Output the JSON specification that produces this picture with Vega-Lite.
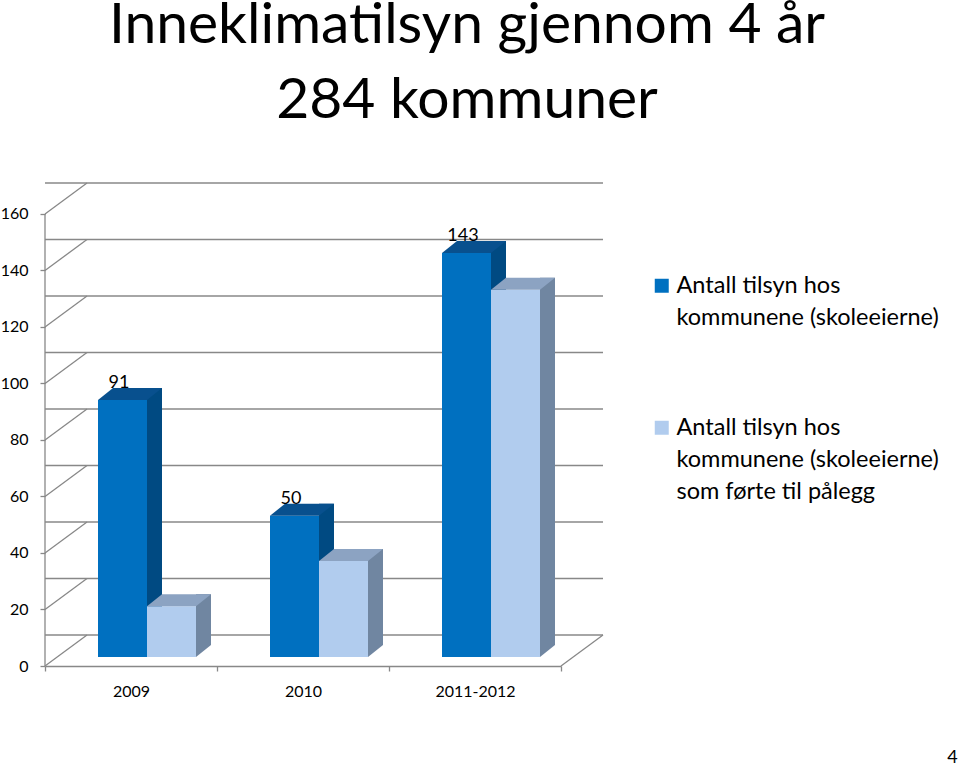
{
  "$schema": "https://vega.github.io/schema/vega-lite/v6.json",
  "autosize": "none",
  "width": 516,
  "height": 483,
  "padding": {"left": 45, "top": 183, "right": 399, "bottom": 100},
  "background": "white",
  "config": {
    "view": {"stroke": null},
    "font": "Lato",
    "style": {"guide-label": {"lineHeight": 32}}
  },
  "title": {
    "text": ["Inneklimatilsyn gjennom 4 år", "284 kommuner"],
    "font": "Lato",
    "fontSize": 57,
    "fontWeight": "normal",
    "color": "black",
    "lineHeight": 75,
    "anchor": "middle",
    "frame": "group",
    "dx": 164,
    "offset": 50
  },
  "resolve": {"axis": {"x": "independent", "y": "independent"}},
  "datasets": {
    "grid": [{"v": 0}, {"v": 20}, {"v": 40}, {"v": 60}, {"v": 80}, {"v": 100}, {"v": 120}, {"v": 140}, {"v": 160}],
    "bars": [
      {"year": "2009", "kode": "a", "serie": "Antall tilsyn hos kommunene (skoleeierne)", "value": 91},
      {"year": "2010", "kode": "a", "serie": "Antall tilsyn hos kommunene (skoleeierne)", "value": 50},
      {"year": "2011-2012", "kode": "a", "serie": "Antall tilsyn hos kommunene (skoleeierne)", "value": 143},
      {"year": "2009", "kode": "b", "serie": "Antall tilsyn hos kommunene (skoleeierne) som førte til pålegg", "value": 18},
      {"year": "2010", "kode": "b", "serie": "Antall tilsyn hos kommunene (skoleeierne) som førte til pålegg", "value": 34},
      {"year": "2011-2012", "kode": "b", "serie": "Antall tilsyn hos kommunene (skoleeierne) som førte til pålegg", "value": 130}
    ]
  },
  "layer": [
    {
      "data": {"name": "grid"},
      "mark": {"type": "rule", "color": "#888888", "strokeWidth": 1.3, "xOffset": 42, "x2Offset": 42, "yOffset": -31},
      "encoding": {
        "y": {
          "field": "v", "type": "quantitative",
          "scale": {"domain": [0, 170.97], "nice": false, "zero": true},
          "axis": {
            "values": [0, 20, 40, 60, 80, 100, 120, 140, 160],
            "domain": false, "grid": false, "title": null,
            "tickSize": 5, "tickColor": "#888888", "tickWidth": 1.3,
            "labelFont": "Lato", "labelFontSize": 16, "labelColor": "black", "labelPadding": 12
          }
        }
      }
    },
    {
      "data": {"name": "grid"},
      "mark": {"type": "point", "shape": "M0,0L1,-0.738", "size": 7056, "filled": false, "stroke": "#888888", "strokeWidth": 1.3, "opacity": 1},
      "encoding": {
        "x": {"value": 0},
        "y": {"field": "v", "type": "quantitative", "axis": null}
      }
    },
    {
      "data": {"values": [{"v": 0}]},
      "mark": {"type": "point", "shape": "M0,0L1,-0.738", "size": 7056, "filled": false, "stroke": "#888888", "strokeWidth": 1.3, "opacity": 1},
      "encoding": {
        "x": {"value": "width"},
        "y": {"field": "v", "type": "quantitative", "axis": null}
      }
    },
    {
      "data": {"values": [{"lo": 0, "hi": 160}]},
      "mark": {"type": "rule", "color": "#888888", "strokeWidth": 1.3},
      "encoding": {
        "x": {"value": 0},
        "y": {"field": "lo", "type": "quantitative", "axis": null},
        "y2": {"field": "hi"}
      }
    },
    {
      "data": {"name": "bars"},
      "transform": [{"filter": "datum.kode == 'a'"}],
      "mark": {"type": "bar", "width": 15, "color": "#004A82", "xOffset": 23.5, "yOffset": -21, "y2Offset": -21},
      "encoding": {
        "x": {"field": "year", "type": "nominal", "sort": null, "scale": {"paddingInner": 0, "paddingOuter": 0}, "axis": null},
        "y": {"field": "value", "type": "quantitative", "axis": null}
      }
    },
    {
      "data": {"name": "bars"},
      "transform": [{"filter": "datum.kode == 'b'"}],
      "mark": {"type": "bar", "width": 15, "color": "#7086A1", "xOffset": 72.5, "yOffset": -21, "y2Offset": -21},
      "encoding": {
        "x": {"field": "year", "type": "nominal", "sort": null, "axis": null},
        "y": {"field": "value", "type": "quantitative", "axis": null}
      }
    },
    {
      "data": {"name": "bars"},
      "transform": [{"filter": "datum.kode == 'b'"}],
      "mark": {"type": "point", "shape": "M0,0L0,-0.8L1,-0.8Z", "size": 900, "filled": true, "color": "#7086A1", "opacity": 1, "strokeWidth": 0, "xOffset": 65, "yOffset": -9},
      "encoding": {
        "x": {"field": "year", "type": "nominal", "sort": null, "axis": null},
        "y": {"datum": 0, "type": "quantitative", "axis": null}
      }
    },
    {
      "data": {"name": "bars"},
      "transform": [{"filter": "datum.kode == 'a'"}],
      "mark": {"type": "bar", "width": 49, "xOffset": -8.5, "yOffset": -9, "y2Offset": -9},
      "encoding": {
        "x": {
          "field": "year", "type": "nominal", "sort": null,
          "axis": {
            "title": "4", "titleX": 907, "titleY": 91, "titleAlign": "center", "titleBaseline": "middle",
            "titleFont": "Lato", "titleFontSize": 18, "titleFontWeight": "normal", "titleColor": "black",
            "labelAngle": 0, "labelFont": "Lato", "labelFontSize": 16, "labelColor": "black", "labelPadding": 12,
            "tickBand": "extent", "tickSize": 5, "tickColor": "#888888", "tickWidth": 1.3,
            "domainColor": "#888888", "domainWidth": 1.3
          }
        },
        "y": {"field": "value", "type": "quantitative", "axis": null},
        "color": {
          "field": "serie", "type": "nominal",
          "scale": {
            "domain": ["Antall tilsyn hos kommunene (skoleeierne)", "Antall tilsyn hos kommunene (skoleeierne) som førte til pålegg"],
            "range": ["#0070C0", "#B1CCEE"]
          },
          "legend": {
            "orient": "none", "legendX": 605, "legendY": 91, "title": null, "padding": 0,
            "symbolType": "square", "symbolSize": 196, "symbolStrokeWidth": 0,
            "labelFont": "Lato", "labelFontSize": 23.5, "labelColor": "black", "labelLimit": 0, "labelOffset": 3,
            "rowPadding": 85,
            "labelExpr": "datum.label == 'Antall tilsyn hos kommunene (skoleeierne)' ? ['Antall tilsyn hos', 'kommunene (skoleeierne)'] : ['Antall tilsyn hos', 'kommunene (skoleeierne)', 'som førte til pålegg']"
          }
        }
      }
    },
    {
      "data": {"name": "bars"},
      "transform": [{"filter": "datum.kode == 'b'"}],
      "mark": {"type": "bar", "width": 49, "xOffset": 40.5, "yOffset": -9, "y2Offset": -9},
      "encoding": {
        "x": {"field": "year", "type": "nominal", "sort": null, "axis": null},
        "y": {"field": "value", "type": "quantitative", "axis": null},
        "color": {"field": "serie", "type": "nominal"}
      }
    },
    {
      "data": {"name": "bars"},
      "transform": [{"filter": "datum.kode == 'a'"}],
      "mark": {"type": "point", "shape": "M-1,0L1,0L1.6122,-0.4898L-0.3878,-0.4898Z", "size": 2401, "filled": true, "color": "#08508E", "opacity": 1, "strokeWidth": 0, "xOffset": -8.5, "yOffset": -9},
      "encoding": {
        "x": {"field": "year", "type": "nominal", "sort": null, "axis": null},
        "y": {"field": "value", "type": "quantitative", "axis": null}
      }
    },
    {
      "data": {"name": "bars"},
      "transform": [{"filter": "datum.kode == 'b'"}],
      "mark": {"type": "point", "shape": "M-1,0L1,0L1.6122,-0.4898L-0.3878,-0.4898Z", "size": 2401, "filled": true, "color": "#8CA3C2", "opacity": 1, "strokeWidth": 0, "xOffset": 40.5, "yOffset": -9},
      "encoding": {
        "x": {"field": "year", "type": "nominal", "sort": null, "axis": null},
        "y": {"field": "value", "type": "quantitative", "axis": null}
      }
    },
    {
      "data": {"name": "bars"},
      "transform": [{"filter": "datum.kode == 'a'"}],
      "mark": {"type": "text", "font": "Lato", "fontSize": 18, "color": "black", "baseline": "alphabetic", "align": "center", "xOffset": -12, "yOffset": -21},
      "encoding": {
        "x": {"field": "year", "type": "nominal", "sort": null, "axis": null},
        "y": {"field": "value", "type": "quantitative", "axis": null},
        "text": {"field": "value", "type": "quantitative"}
      }
    }
  ]
}
